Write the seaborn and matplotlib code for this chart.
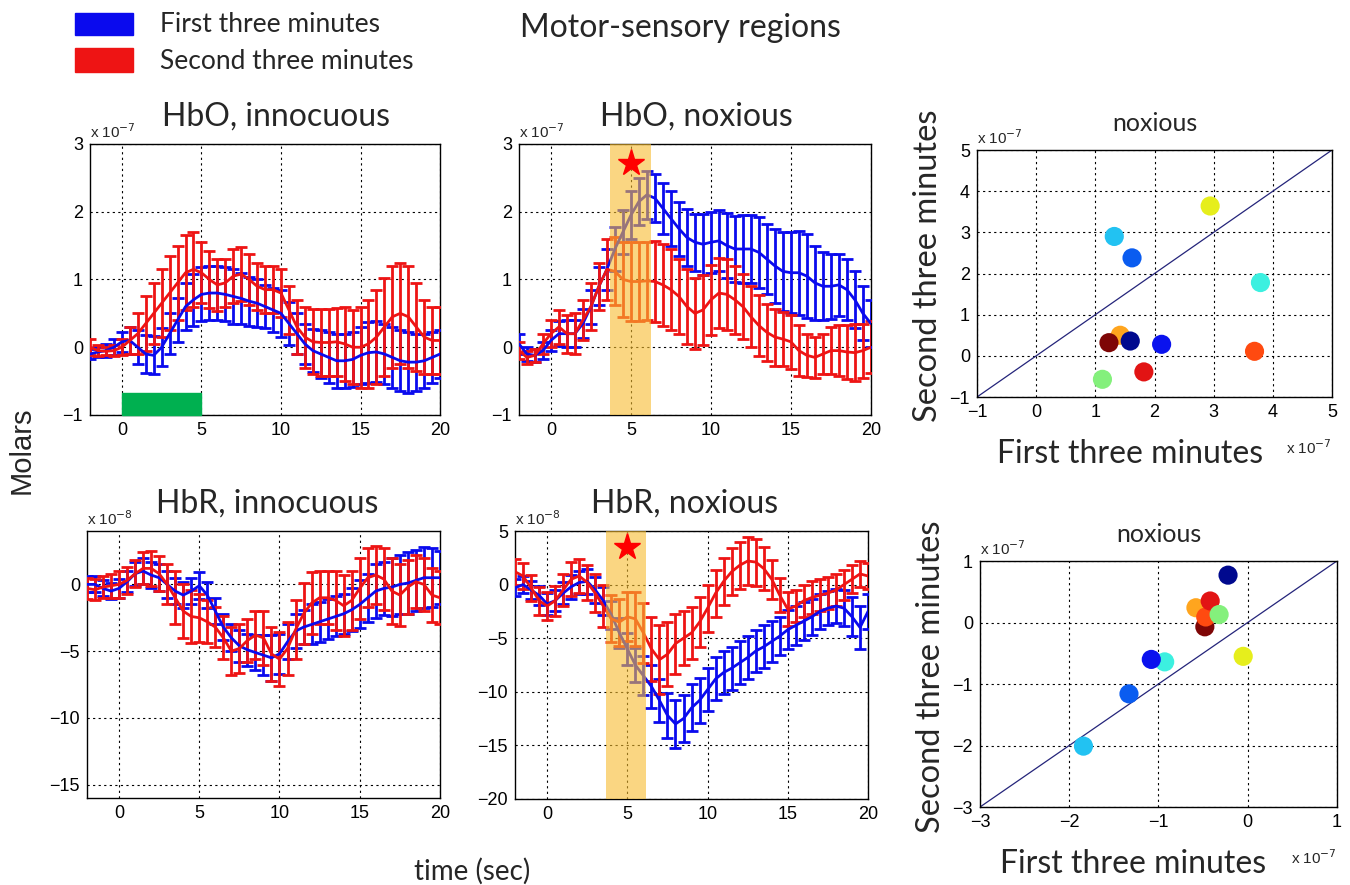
import numpy as np
import matplotlib
matplotlib.use("Agg")
import matplotlib.pyplot as plt
import seaborn as sns
from matplotlib.patches import Rectangle

# time axis (sec), one sample every 0.5 s
t = np.arange(-2, 20.5, 0.5)

# HbO, innocuous (x 1e-7)
hbo_inn_first = [-0.10, -0.07, -0.05, 0.00, 0.08, 0.10, 0.00, -0.10, -0.12,
                 0.00, 0.20, 0.40, 0.60, 0.70, 0.78, 0.80, 0.80, 0.78,
                 0.75, 0.72, 0.68, 0.65, 0.60, 0.55, 0.50, 0.35, 0.20,
                 0.05, -0.05, -0.10, -0.15, -0.20, -0.20, -0.18, -0.12, -0.08,
                 -0.07, -0.10, -0.15, -0.20, -0.22, -0.22, -0.20, -0.15, -0.10]
hbo_inn_first_err = [0.08, 0.08, 0.10, 0.12, 0.15, 0.20, 0.25, 0.28, 0.28,
                     0.28, 0.30, 0.32, 0.35, 0.38, 0.40, 0.40, 0.40, 0.40,
                     0.40, 0.38, 0.36, 0.35, 0.32, 0.32, 0.35, 0.32, 0.30,
                     0.30, 0.32, 0.35, 0.38, 0.40, 0.40, 0.40, 0.42, 0.45,
                     0.45, 0.45, 0.45, 0.45, 0.45, 0.42, 0.40, 0.38, 0.35]
hbo_inn_second = [0.00, -0.05, -0.06, -0.05, 0.00, 0.10, 0.20, 0.35, 0.50,
                  0.65, 0.80, 0.95, 1.10, 1.15, 1.10, 1.00, 0.92, 0.95,
                  1.05, 1.08, 1.00, 0.90, 0.85, 0.85, 0.80, 0.55, 0.30,
                  0.15, 0.08, 0.07, 0.07, 0.08, 0.05, 0.00, 0.00, 0.05,
                  0.15, 0.30, 0.45, 0.50, 0.45, 0.30, 0.15, 0.10, 0.10]
hbo_inn_second_err = [0.12, 0.08, 0.06, 0.08, 0.12, 0.20, 0.30, 0.40, 0.45,
                      0.50, 0.55, 0.55, 0.55, 0.55, 0.45, 0.42, 0.38, 0.35,
                      0.40, 0.40, 0.38, 0.35, 0.35, 0.35, 0.35, 0.35, 0.40,
                      0.45, 0.48, 0.50, 0.50, 0.50, 0.55, 0.55, 0.60, 0.65,
                      0.70, 0.72, 0.75, 0.75, 0.75, 0.65, 0.55, 0.50, 0.50]

# HbO, noxious (x 1e-7)
hbo_nox_first = [0.05, -0.10, -0.12, -0.05, 0.10, 0.20, 0.20, 0.20, 0.35,
                 0.60, 0.90, 1.15, 1.45, 1.70, 1.95, 2.15, 2.25, 2.20,
                 2.05, 1.90, 1.75, 1.62, 1.55, 1.52, 1.55, 1.57, 1.50,
                 1.45, 1.45, 1.45, 1.40, 1.30, 1.20, 1.12, 1.10, 1.10,
                 1.05, 0.95, 0.90, 0.90, 0.92, 0.85, 0.70, 0.50, 0.35]
hbo_nox_first_err = [0.15, 0.10, 0.10, 0.12, 0.15, 0.18, 0.20, 0.20, 0.22,
                     0.25, 0.28, 0.30, 0.32, 0.33, 0.35, 0.35, 0.35, 0.35,
                     0.38, 0.40, 0.40, 0.42, 0.42, 0.45, 0.45, 0.45, 0.48,
                     0.48, 0.50, 0.50, 0.52, 0.52, 0.55, 0.58, 0.60, 0.62,
                     0.62, 0.55, 0.50, 0.48, 0.46, 0.45, 0.42, 0.40, 0.35]
hbo_nox_second = [-0.05, -0.15, -0.12, 0.05, 0.20, 0.30, 0.20, 0.20, 0.40,
                  0.60, 0.90, 1.15, 1.12, 1.00, 0.97, 0.97, 0.98, 0.97,
                  0.92, 0.85, 0.75, 0.60, 0.50, 0.55, 0.70, 0.80, 0.78,
                  0.70, 0.60, 0.45, 0.32, 0.22, 0.15, 0.12, 0.08, -0.05,
                  -0.12, -0.15, -0.10, -0.05, -0.05, -0.07, -0.08, -0.05, 0.00]
hbo_nox_second_err = [0.12, 0.10, 0.10, 0.15, 0.20, 0.25, 0.28, 0.30, 0.30,
                      0.35, 0.35, 0.45, 0.50, 0.55, 0.58, 0.58, 0.58, 0.60,
                      0.60, 0.60, 0.55, 0.55, 0.52, 0.52, 0.52, 0.52, 0.52,
                      0.50, 0.48, 0.45, 0.45, 0.42, 0.42, 0.40, 0.40, 0.38,
                      0.32, 0.30, 0.30, 0.35, 0.38, 0.40, 0.42, 0.40, 0.38]

# HbR, innocuous (x 1e-8)
hbr_inn_first = [0.0, 0.0, -0.3, -0.5, -0.3, 0.2, 0.8, 1.0, 0.7,
                 0.5, 0.0, -0.5, -0.8, -0.5, -0.1, -0.8, -2.0, -3.2,
                 -4.0, -4.6, -4.9, -5.1, -5.3, -5.5, -5.2, -4.3, -3.5,
                 -3.2, -3.0, -2.8, -2.6, -2.4, -2.2, -1.9, -1.5, -1.0,
                 -0.5, -0.3, -0.2, 0.0, 0.1, 0.3, 0.5, 0.5, 0.5]
hbr_inn_first_err = [0.6, 0.6, 0.6, 0.6, 0.7, 0.8, 0.9, 1.0, 1.0,
                     1.0, 1.0, 1.0, 1.0, 1.0, 1.0, 1.0, 1.0, 1.0,
                     1.0, 1.2, 1.2, 1.3, 1.5, 1.7, 1.5, 1.3, 1.3,
                     1.3, 1.5, 1.5, 1.5, 1.5, 1.5, 1.6, 1.8, 1.8,
                     2.0, 2.0, 2.2, 2.2, 2.3, 2.3, 2.3, 2.2, 2.0]
hbr_inn_second = [-0.3, -0.4, -0.2, -0.1, 0.0, 0.3, 0.8, 1.2, 1.2,
                  0.8, 0.0, -1.0, -2.0, -2.4, -2.5, -2.8, -3.2, -4.0,
                  -5.0, -4.8, -4.2, -3.8, -4.0, -5.2, -5.6, -4.8, -3.4,
                  -2.2, -1.4, -1.0, -1.0, -1.2, -1.6, -1.2, -0.3, 0.5,
                  0.7, 0.4, -0.5, -0.8, -0.2, 0.2, 0.0, -0.8, -1.0]
hbr_inn_second_err = [0.8, 0.8, 0.8, 0.9, 1.0, 1.0, 1.0, 1.2, 1.3,
                      1.3, 1.5, 2.0, 2.0, 2.0, 1.8, 1.6, 1.5, 1.6,
                      1.8, 1.8, 1.6, 1.8, 2.0, 2.0, 2.0, 2.0, 2.2,
                      2.3, 2.3, 2.0, 2.0, 2.2, 2.3, 2.2, 2.3, 2.2,
                      2.2, 2.3, 2.5, 2.3, 2.0, 2.0, 2.0, 2.0, 2.0]

# HbR, noxious (x 1e-8)
hbr_nox_first = [-0.3, 0.0, -0.5, -1.0, -1.8, -1.5, -0.8, -0.2, 0.2,
                 0.3, -0.5, -1.5, -2.8, -4.5, -6.0, -7.5, -8.5, -9.5,
                 -10.8, -12.2, -13.0, -12.5, -11.5, -10.8, -9.8, -8.8, -8.2,
                 -7.8, -7.3, -6.8, -6.2, -5.8, -5.3, -4.8, -4.2, -3.8,
                 -3.4, -3.0, -2.5, -2.2, -2.0, -2.2, -3.0, -4.0, -2.5]
hbr_nox_first_err = [0.8, 0.8, 0.8, 0.9, 1.0, 1.0, 1.0, 1.1, 1.1,
                     1.2, 1.2, 1.3, 1.3, 1.4, 1.5, 1.6, 1.8, 2.0,
                     2.0, 2.1, 2.2, 2.2, 2.2, 2.1, 2.0, 2.0, 2.0,
                     2.0, 2.0, 2.0, 2.0, 2.0, 1.9, 1.8, 1.8, 1.8,
                     1.8, 1.7, 1.6, 1.6, 1.6, 1.7, 1.8, 2.0, 1.6]
hbr_nox_second = [1.2, 0.8, -0.3, -1.5, -2.0, -1.5, -0.5, 0.5, 0.8,
                  0.2, -0.8, -2.0, -3.2, -3.5, -3.0, -3.2, -4.5, -6.0,
                  -7.0, -6.5, -5.5, -5.0, -4.5, -3.5, -2.2, -0.8, 0.3,
                  1.2, 1.8, 2.2, 2.1, 1.5, 0.5, -1.0, -2.3, -2.0,
                  -1.5, -1.2, -1.0, -0.8, -0.5, 0.0, 0.5, 1.0, 0.8]
hbr_nox_second_err = [1.2, 1.2, 1.2, 1.3, 1.3, 1.4, 1.5, 1.6, 1.6,
                      1.6, 1.8, 2.0, 2.2, 2.2, 2.3, 2.5, 2.8, 3.0,
                      3.2, 3.0, 2.8, 2.5, 2.4, 2.3, 2.2, 2.2, 2.2,
                      2.2, 2.2, 2.2, 2.2, 2.0, 1.8, 1.6, 1.6, 1.5,
                      1.5, 1.5, 1.5, 1.5, 1.5, 1.4, 1.3, 1.2, 1.2]

# scatter: one dot per channel, first vs second three minutes
channel_colors = ["#e6ee1c", "#22c2f2", "#0a5cf0", "#3cf0e0", "#ffa51e", "#7e0606",
                  "#00098e", "#0a12ee", "#ff4a10", "#e21414", "#84f07c"]
hbo_first_3min = [2.94, 1.32, 1.62, 3.79, 1.42, 1.23, 1.59, 2.12, 3.69, 1.82, 1.12]
hbo_second_3min = [3.64, 2.90, 2.38, 1.78, 0.50, 0.32, 0.36, 0.28, 0.11, -0.39, -0.57]
hbr_first_3min = [-0.05, -1.84, -1.33, -0.93, -0.58, -0.48, -0.22, -1.08, -0.47, -0.42, -0.32]
hbr_second_3min = [-0.55, -2.01, -1.16, -0.64, 0.24, -0.07, 0.77, -0.60, 0.09, 0.35, 0.13]

BLUE = "#0a0aee"
RED = "#ee1414"
SPAN = "#f7bc2f"

sns.set_theme(style="white")
plt.rcParams['font.family'] = ['Liberation Sans', 'DejaVu Sans']
TITLE_FONT = ['Lato', 'DejaVu Sans']

fig = plt.figure(figsize=(13.5, 8.85), dpi=100)


def style_axes(ax, xlim, ylim, xticks, yticks, power):
    ax.set_xlim(*xlim)
    ax.set_ylim(*ylim)
    ax.set_xticks(xticks)
    ax.set_yticks(yticks)
    ax.grid(True, linestyle=(0, (2, 3)), color='black', linewidth=0.8)
    for s in ax.spines.values():
        s.set_color('black')
        s.set_linewidth(1)
    ax.tick_params(direction='in', length=4, labelsize=13, colors='black', pad=5)
    ax.text(0.0, 1.012, 'x 10$^{%d}$' % power, transform=ax.transAxes,
            ha='left', va='bottom', fontsize=11)


def draw_trace(ax, mean, err, color):
    ax.errorbar(t, mean, yerr=err, fmt='none', ecolor=color, elinewidth=2,
                capsize=4, capthick=2, zorder=3)
    sns.lineplot(x=t, y=mean, color=color, linewidth=2, ax=ax, zorder=4)


# time courses
ax1 = fig.add_axes([0.0667, 0.5311, 0.2593, 0.3062])
ax2 = fig.add_axes([0.3844, 0.5311, 0.2607, 0.3062])
ax3 = fig.add_axes([0.0644, 0.0983, 0.2615, 0.3017])
ax4 = fig.add_axes([0.3815, 0.0972, 0.2615, 0.3028])

draw_trace(ax1, hbo_inn_first, hbo_inn_first_err, BLUE)
draw_trace(ax1, hbo_inn_second, hbo_inn_second_err, RED)
ax1.add_patch(Rectangle((0, -1), 5, 0.32, color='#00b050', zorder=5, clip_on=False))
style_axes(ax1, (-2, 20), (-1, 3), [0, 5, 10, 15, 20], [-1, 0, 1, 2, 3], -7)
ax1.set_title('HbO, innocuous', fontsize=23, family=TITLE_FONT, pad=13, x=0.53)

draw_trace(ax2, hbo_nox_first, hbo_nox_first_err, BLUE)
draw_trace(ax2, hbo_nox_second, hbo_nox_second_err, RED)
ax2.axvspan(3.7, 6.25, color=SPAN, alpha=0.6, lw=0, zorder=6)
ax2.plot(5, 2.72, marker='*', color='red', markersize=20, zorder=7)
style_axes(ax2, (-2, 20), (-1, 3), [0, 5, 10, 15, 20], [-1, 0, 1, 2, 3], -7)
ax2.set_title('HbO, noxious', fontsize=23, family=TITLE_FONT, pad=13, x=0.505)

draw_trace(ax3, hbr_inn_first, hbr_inn_first_err, BLUE)
draw_trace(ax3, hbr_inn_second, hbr_inn_second_err, RED)
style_axes(ax3, (-2, 20), (-16, 4), [0, 5, 10, 15, 20], [-15, -10, -5, 0], -8)
ax3.set_title('HbR, innocuous', fontsize=23, family=TITLE_FONT, pad=13, x=0.51)

draw_trace(ax4, hbr_nox_first, hbr_nox_first_err, BLUE)
draw_trace(ax4, hbr_nox_second, hbr_nox_second_err, RED)
ax4.axvspan(3.65, 6.15, color=SPAN, alpha=0.6, lw=0, zorder=6)
ax4.plot(5, 3.5, marker='*', color='red', markersize=20, zorder=7)
style_axes(ax4, (-2, 20), (-20, 5), [0, 5, 10, 15, 20], [-20, -15, -10, -5, 0, 5], -8)
ax4.set_title('HbR, noxious', fontsize=23, family=TITLE_FONT, pad=13, x=0.48)

for ax in (ax1, ax2, ax3, ax4):
    ax.set_xlabel('')
    ax.set_ylabel('')

# scatter plots
ax5 = fig.add_axes([0.7237, 0.5514, 0.2630, 0.2791])
ax6 = fig.add_axes([0.7259, 0.0881, 0.2644, 0.2780])

for ax, xs, ys, lim, ticks in ((ax5, hbo_first_3min, hbo_second_3min, (-1, 5), range(-1, 6)),
                               (ax6, hbr_first_3min, hbr_second_3min, (-3, 1), range(-3, 2))):
    ax.plot(lim, lim, color='#24247a', linewidth=0.9, zorder=2)
    sns.scatterplot(x=xs, y=ys, hue=list(range(len(xs))), palette=channel_colors,
                    s=190, edgecolor='none', legend=False, ax=ax, zorder=3)
    style_axes(ax, lim, lim, list(ticks), list(ticks), -7)
    ax.set_title('noxious', fontsize=18, family=TITLE_FONT, pad=14)
    ax.text(0.43, -0.23, 'First three minutes', transform=ax.transAxes,
            fontsize=23, family=TITLE_FONT, ha='center', va='center')
    ax.text(-0.138, 0.53, 'Second three minutes', transform=ax.transAxes,
            fontsize=23.5, family=TITLE_FONT, ha='center', va='center', rotation=90)
    ax.text(1.0, -0.205, 'x 10$^{-7}$', transform=ax.transAxes, ha='right',
            va='center', fontsize=11)

# legend and shared labels
fig.add_artist(Rectangle((0.0556, 0.9605), 0.043, 0.0249, color=BLUE,
                         transform=fig.transFigure))
fig.add_artist(Rectangle((0.0556, 0.9186), 0.043, 0.0271, color=RED,
                         transform=fig.transFigure))
fig.text(0.1185, 0.972, 'First three minutes', fontsize=19, family=TITLE_FONT, va='center')
fig.text(0.1185, 0.930, 'Second three minutes', fontsize=19, family=TITLE_FONT, va='center')
fig.text(0.5037, 0.968, 'Motor-sensory regions', fontsize=23, family=TITLE_FONT,
         ha='center', va='center')
fig.text(0.0163, 0.4915, 'Molars', fontsize=21, rotation=90,
         ha='center', va='center')
fig.text(0.35, 0.015, 'time (sec)', fontsize=20, family=TITLE_FONT,
         ha='center', va='center')

fig.savefig('out.png', dpi=100)
